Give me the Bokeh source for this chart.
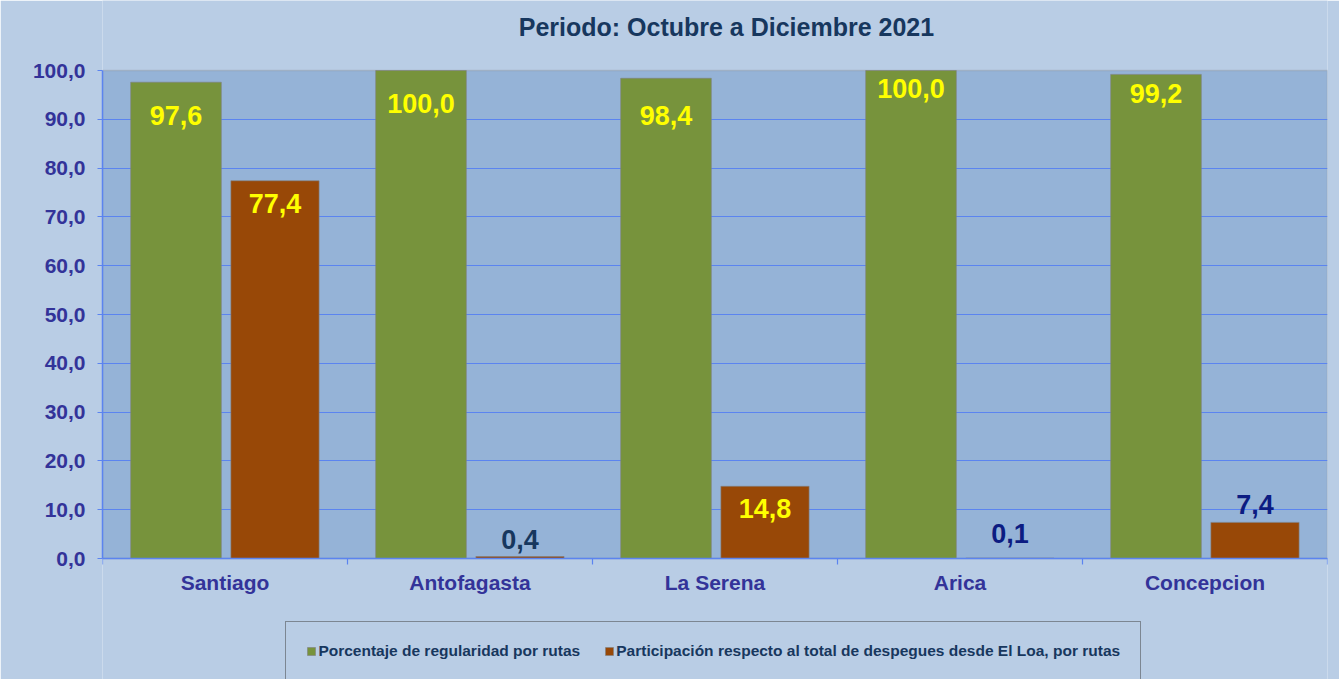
import numpy as np
from bokeh.plotting import figure
from bokeh.models import (Range1d, FixedTicker, Legend, LegendItem,
                          ColumnDataSource, LabelSet, Label, BoxAnnotation, Span)
from bokeh.core.properties import value
from bokeh.embed import file_html
from bokeh.resources import INLINE

# ---------------- data ----------------
cities = ["Santiago", "Antofagasta", "La Serena", "Arica", "Concepcion"]
regularidad = [97.6, 100.0, 98.4, 100.0, 99.2]
participacion = [77.4, 0.4, 14.8, 0.1, 7.4]
y_ticks = [0, 10, 20, 30, 40, 50, 60, 70, 80, 90, 100]
series_names = ["Porcentaje de regularidad por rutas",
                "Participación respecto al total de despegues desde El Loa, por rutas"]
title_text = "Periodo:  Octubre a Diciembre 2021"

# ---------------- styles ----------------
reg_label_dy = [-43, -42, -47, -27, -29]      # px, relative to bar top
par_label_dy = [-32, 8, -32, 15, 8.5]
YELLOW = "#ffff00"
par_label_colors = [YELLOW, "#17375e", YELLOW, "#0c1c82", "#0c1c82"]

FONT = "Liberation Sans"
GREEN = "#77933c"
ORANGE = "#984807"
PLOT_BG = "#95b3d7"
OUTER_BG = "#b9cde5"
GRID = "#5b84f0"
AXIS_TXT = "#333399"
TITLE_TXT = "#17375e"

# ---------------- layout (pixels) ----------------
W, H = 1339, 679
LEFT, RIGHT = 102, 12          # frame left / right margins
ZERO_Y = 558                   # page y of value 0
PX_PER_UNIT = 4.88             # 100 units -> 488 px
TICK = 6


def fmt(v):
    return f"{v:.1f}".replace(".", ",")


idx = np.arange(len(cities))
src_reg = ColumnDataSource(dict(x=idx + 0.30, top=regularidad,
                                txt=[fmt(v) for v in regularidad],
                                dy=reg_label_dy,
                                col=[YELLOW] * len(cities)))
src_par = ColumnDataSource(dict(x=idx + 0.704, top=participacion,
                                txt=[fmt(v) for v in participacion],
                                dy=par_label_dy,
                                col=par_label_colors))

y_lo = -(H - ZERO_Y) / PX_PER_UNIT
y_hi = ZERO_Y / PX_PER_UNIT

p = figure(frame_width=W - LEFT - RIGHT, frame_height=H,
           x_range=Range1d(0, len(cities)), y_range=Range1d(y_lo, y_hi),
           output_backend="svg", toolbar_location=None,
           x_axis_location=None,
           min_border_left=LEFT, min_border_right=RIGHT,
           min_border_top=0, min_border_bottom=0,
           background_fill_color=OUTER_BG, border_fill_color=OUTER_BG,
           outline_line_color=None)

# plot area (0..100) background with grey outline
p.add_layout(BoxAnnotation(bottom=0, top=100, fill_color=PLOT_BG, fill_alpha=1,
                           line_color="#8c8c8c", line_width=1.5, level="image"))

# title
p.add_layout(Label(x=627.4, y=H - 26, x_units="screen", y_units="screen",
                   text=title_text, text_align="center", text_baseline="alphabetic",
                   text_font=FONT, text_font_size="25px",
                   text_font_style="bold", text_color=TITLE_TXT))

# bars
r1 = p.vbar(x="x", top="top", width=0.37, bottom=0, source=src_reg,
            fill_color=GREEN, line_color="#808080", line_alpha=0.6, line_width=1)
r2 = p.vbar(x="x", top="top", width=0.36, bottom=0, source=src_par,
            fill_color=ORANGE, line_color="#808080", line_alpha=0.6, line_width=1)

for src in (src_reg, src_par):
    p.add_layout(LabelSet(x="x", y="top", text="txt", y_offset="dy",
                          text_color="col", text_align="center",
                          text_baseline="alphabetic", text_font=value(FONT),
                          text_font_size="27px", text_font_style="bold",
                          source=src))

# grid (the 100 line is the grey plot-area border)
p.xgrid.visible = False
p.ygrid.ticker = FixedTicker(ticks=[t for t in y_ticks if t < max(y_ticks)])
p.ygrid.grid_line_color = GRID
p.ygrid.grid_line_width = 1.2

# y axis
ya = p.yaxis[0]
ya.ticker = FixedTicker(ticks=y_ticks, minor_ticks=[])
ya.bounds = (0, 100)
ya.major_label_overrides = {t: fmt(t) for t in y_ticks}
ya.axis_line_color = GRID
ya.axis_line_width = 1.5
ya.major_tick_line_color = GRID
ya.major_tick_out = 5
ya.major_tick_in = 0
ya.minor_tick_line_color = None
ya.major_label_standoff = 12
ya.major_label_text_font = FONT
ya.major_label_text_font_size = "21px"
ya.major_label_text_font_style = "bold"
ya.major_label_text_color = AXIS_TXT

# category axis: line at 0, ticks at category boundaries, names at centres
p.add_layout(Span(location=0, dimension="width", line_color=GRID, line_width=1.5))
bounds = [float(i) for i in range(len(cities) + 1)]
p.segment(x0=bounds, y0=[0] * len(bounds), x1=bounds,
          y1=[-TICK / PX_PER_UNIT] * len(bounds), line_color=GRID, line_width=1.2)
src_cat = ColumnDataSource(dict(x=idx + 0.5, y=[0] * len(cities), txt=cities))
p.add_layout(LabelSet(x="x", y="y", text="txt", y_offset=-31,
                      text_align="center", text_baseline="alphabetic",
                      text_font=value(FONT), text_font_size="21px",
                      text_font_style="bold", text_color=AXIS_TXT, source=src_cat))

legend = Legend(items=[LegendItem(label=series_names[0], renderers=[r1]),
                       LegendItem(label=series_names[1], renderers=[r2])],
                orientation="horizontal", location=(183.4, -2.6),
                label_text_font=FONT, label_text_font_size="15.5px",
                label_text_font_style="bold", label_text_color=TITLE_TXT,
                glyph_width=10, glyph_height=10, label_standoff=2,
                spacing=24, padding=20, label_height=19,
                border_line_color="#404040", border_line_width=1.5,
                background_fill_color=OUTER_BG, background_fill_alpha=1,
                margin=0)
p.add_layout(legend)

open("out.html", "w").write(file_html(p, INLINE))
